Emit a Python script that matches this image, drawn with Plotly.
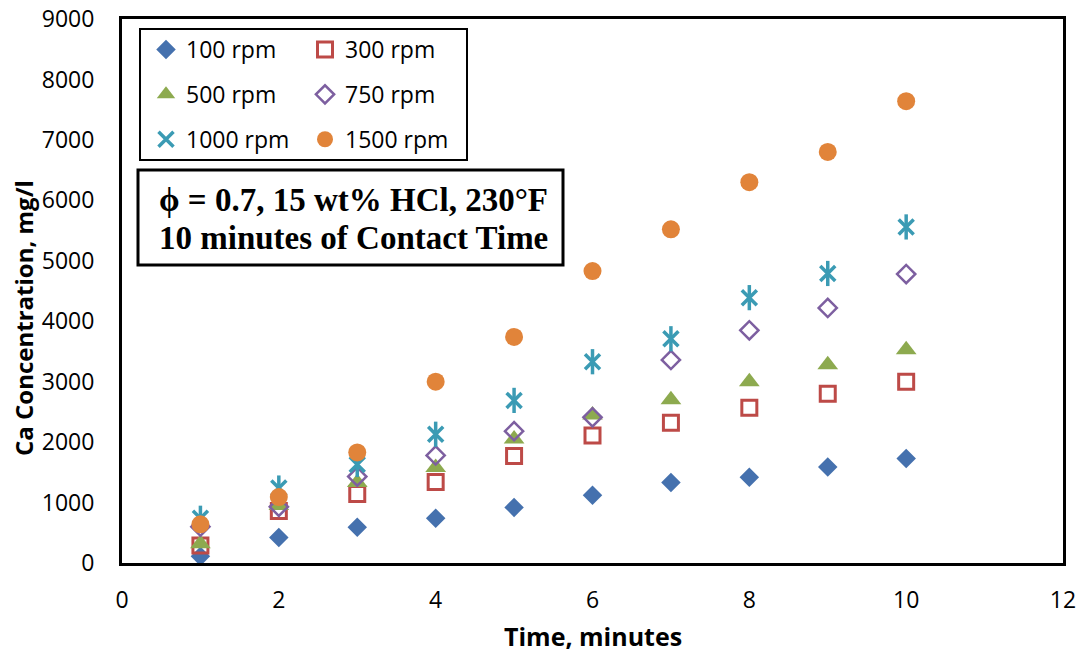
import plotly.graph_objects as go

time_min = [1, 2, 3, 4, 5, 6, 7, 8, 9, 10]
rpm100 = [110, 420, 590, 740, 920, 1120, 1330, 1420, 1590, 1730]
rpm300 = [290, 860, 1140, 1340, 1770, 2110, 2320, 2570, 2800, 3000]
rpm500 = [320, 950, 1330, 1580, 2050, 2450, 2700, 3000, 3280, 3530]
rpm750 = [600, 930, 1430, 1780, 2180, 2410, 3360, 3850, 4220, 4780]
rpm1000 = [740, 1240, 1630, 2130, 2690, 3330, 3710, 4390, 4790, 5560]
rpm1500 = [640, 1090, 1830, 3000, 3740, 4830, 5520, 6300, 6800, 7640]

x_ticks = [0, 2, 4, 6, 8, 10, 12]
y_ticks = [0, 1000, 2000, 3000, 4000, 5000, 6000, 7000, 8000, 9000]

note_lines = ["ϕ = 0.7, 15 wt% HCl, 230°F", "10 minutes of Contact Time"]
x_title = "Time, minutes"
y_title = "Ca Concentration, mg/l"

BLUE = "#4571AE"
RED = "#BD4A47"
GREEN = "#8DAA4F"
PURPLE = "#7D5FA0"
TEAL = "#3B9BB4"
ORANGE = "#E1843A"

W, H = 1083, 653
L, R, T, B = 122, 20, 19, 90
PW, PH = W - L - R, H - T - B


def px(x):
    return (x - L) / PW


def py(y):
    return 1 - (y - T) / PH


fig = go.Figure()

fig.add_trace(go.Scatter(x=time_min, y=rpm100, mode="markers", name="100 rpm",
                         legend="legend", legendgroup="a",
                         marker=dict(symbol="diamond", size=15, color=BLUE)))
fig.add_trace(go.Scatter(x=time_min, y=rpm300, mode="markers", name="300 rpm",
                         legend="legend2", legendgroup="b",
                         marker=dict(symbol="square-open", size=15, color=RED,
                                     line=dict(width=3, color=RED))))
fig.add_trace(go.Scatter(x=time_min, y=rpm500, mode="markers", name="500 rpm",
                         legend="legend", legendgroup="c",
                         marker=dict(symbol="triangle-up", size=18, color=GREEN)))
fig.add_trace(go.Scatter(x=time_min, y=rpm750, mode="markers", name="750 rpm",
                         legend="legend2", legendgroup="d",
                         marker=dict(symbol="diamond-open", size=14, color=PURPLE,
                                     line=dict(width=2.5, color=PURPLE))))
fig.add_trace(go.Scatter(x=time_min, y=rpm1000, mode="markers", name="1000 rpm",
                         legend="legend", legendgroup="e",
                         marker=dict(symbol="x-thin-open", size=15, color=TEAL,
                                     line=dict(width=3.5, color=TEAL))))
fig.add_trace(go.Scatter(x=time_min, y=rpm1000, mode="markers", name="1000 rpm",
                         legend="legend", legendgroup="e", showlegend=False,
                         marker=dict(symbol="line-ns-open", size=18, color=TEAL,
                                     line=dict(width=3.5, color=TEAL))))
fig.add_trace(go.Scatter(x=time_min, y=rpm1500, mode="markers", name="1500 rpm",
                         legend="legend2", legendgroup="f",
                         marker=dict(symbol="circle", size=18, color=ORANGE)))

legend_font = dict(family="Open Sans, sans-serif", size=23, color="#000000")
legend_common = dict(font=legend_font, bgcolor="rgba(0,0,0,0)", borderwidth=0,
                     orientation="v", tracegroupgap=12, xanchor="left",
                     yanchor="top", itemwidth=30)

note_font = dict(family="Liberation Serif, Times New Roman, serif", size=33, color="#000000")
title_font = dict(family="Open Sans, sans-serif", size=24, color="#000000")
tick_font = dict(family="Open Sans, sans-serif", size=23, color="#000000")

fig.update_layout(
    width=W, height=H,
    margin=dict(l=L, r=R, t=T, b=B, autoexpand=False),
    paper_bgcolor="white", plot_bgcolor="white",
    showlegend=True,
    legend=dict(x=px(146), y=py(28), **legend_common),
    legend2=dict(x=px(305), y=py(28), **legend_common),
    xaxis=dict(range=[0, 12], tickvals=x_ticks, ticktext=[str(v) for v in x_ticks],
               showgrid=False, zeroline=False, showline=True, mirror=True,
               linecolor="black", linewidth=3, ticks="", automargin=False,
               ticklabelstandoff=14, tickfont=tick_font),
    yaxis=dict(range=[0, 9000], tickvals=y_ticks, ticktext=[str(v) for v in y_ticks],
               showgrid=False, zeroline=False, showline=True, mirror=True,
               linecolor="black", linewidth=3, ticks="", automargin=False,
               ticklabelstandoff=20, tickfont=tick_font),
    shapes=[
        dict(type="rect", xref="paper", yref="paper",
             x0=px(140), x1=px(467), y0=py(160), y1=py(29),
             line=dict(color="black", width=2), fillcolor="rgba(0,0,0,0)", layer="above"),
        dict(type="rect", xref="paper", yref="paper",
             x0=px(138), x1=px(563), y0=py(265), y1=py(170),
             line=dict(color="black", width=3), fillcolor="white", layer="above"),
    ],
    annotations=[
        dict(xref="paper", yref="paper", x=px(157), y=py(200), xanchor="left", yanchor="middle",
             align="left", showarrow=False, text="<b>" + note_lines[0] + "</b>", font=note_font),
        dict(xref="paper", yref="paper", x=px(157), y=py(238), xanchor="left", yanchor="middle",
             align="left", showarrow=False, text="<b>" + note_lines[1] + "</b>", font=note_font),
        dict(xref="paper", yref="paper", x=px(593), y=py(636), xanchor="center", yanchor="middle",
             showarrow=False, text="<b>" + x_title + "</b>",
             font=dict(family="Open Sans, sans-serif", size=25, color="#000000")),
        dict(xref="paper", yref="paper", x=px(23), y=py(318), xanchor="center", yanchor="middle",
             textangle=-90, showarrow=False, text="<b>" + y_title + "</b>", font=title_font),
    ],
)

fig.write_html("out.html")
